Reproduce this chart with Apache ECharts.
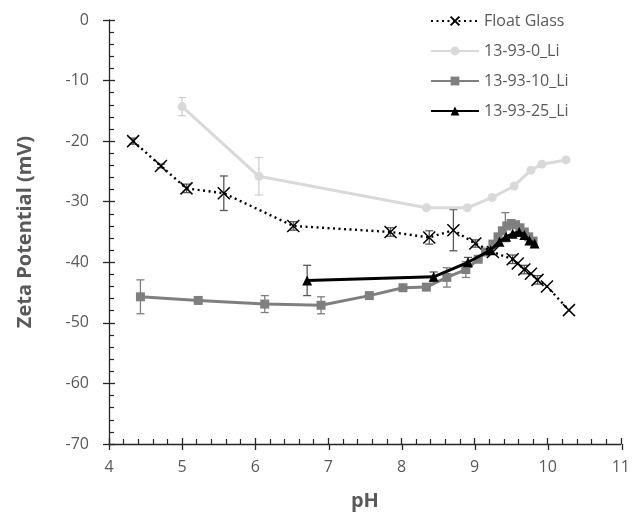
<!DOCTYPE html>
<html>
<head>
<meta charset="utf-8">
<script src="https://cdn.jsdelivr.net/npm/echarts@6/dist/echarts.min.js"></script>
<style>
  html, body { margin: 0; padding: 0; background: #fff; }
  #chart { width: 633px; height: 523px; }
</style>
</head>
<body>
<div id="chart"></div>
<script>
// values: [pH, zeta potential mV]
const floatGlass = [
  [4.33, -20.0], [4.71, -24.1], [5.06, -27.8], [5.57, -28.6], [6.52, -34.0],
  [7.85, -35.0], [8.38, -35.9], [8.71, -34.7], [9.01, -36.9], [9.25, -38.3],
  [9.52, -39.5], [9.59, -40.2], [9.68, -41.2], [9.77, -41.9], [9.86, -42.9],
  [9.99, -44.0], [10.29, -47.9]
]
const li0 = [
  [5.0, -14.3], [6.05, -25.8], [8.34, -31.0], [8.9, -31.0], [9.24, -29.3],
  [9.54, -27.4], [9.77, -24.8], [9.92, -23.8], [10.25, -23.1]
]
const li10 = [
  [4.43, -45.7], [5.22, -46.3], [6.13, -46.9], [6.9, -47.1], [7.56, -45.5],
  [8.02, -44.2], [8.34, -44.1], [8.62, -42.5], [8.88, -41.2], [9.05, -39.5],
  [9.15, -38.3], [9.25, -37.0], [9.32, -35.8], [9.38, -34.8], [9.44, -34.0],
  [9.5, -33.6], [9.56, -33.8], [9.62, -34.3], [9.68, -35.0], [9.74, -35.8],
  [9.8, -36.5]
]
const li25 = [
  [6.71, -43.0], [8.44, -42.4], [8.91, -40.0], [9.22, -38.0], [9.34, -36.6],
  [9.43, -35.8], [9.52, -35.3], [9.61, -35.0], [9.68, -35.5], [9.75, -36.4],
  [9.82, -36.9]
]

// error bars: [pH, mV, +/- mV]
const floatGlassErr = [
  [4.33, -20.0, 0.5], [4.71, -24.1, 0.3], [5.06, -27.8, 0.7], [5.57, -28.6, 2.85],
  [6.52, -34.0, 0.7], [7.85, -35.0, 0.7], [8.38, -35.9, 1.1], [8.71, -34.7, 3.4],
  [9.01, -36.9, 0.6], [9.52, -39.5, 0.7], [9.68, -41.2, 0.7], [9.86, -42.9, 0.7]
]
const li0Err = [[5.0, -14.3, 1.5], [6.05, -25.8, 3.1]]
const li10Err = [
  [4.43, -45.7, 2.8], [6.13, -46.9, 1.4], [6.9, -47.1, 1.4], [8.62, -42.5, 1.6],
  [8.88, -41.2, 1.3], [9.42, -34.2, 2.4]
]
const li25Err = [[6.71, -43.0, 2.5], [8.44, -42.4, 0.8], [8.91, -40.0, 0.8]]

const labelColor = '#595959'
const axisColor = '#262626'
const fontFamily = '"Open Sans", "Noto Sans", sans-serif'

const errorBars = (data, color) => ({
  type: 'custom',
  data: data,
  silent: true,
  z: 1,
  renderItem: (params, api) => {
    const x = api.value(0)
    const y = api.value(1)
    const e = api.value(2)
    const top = api.coord([x, y + e])
    const bot = api.coord([x, y - e])
    const w = 4
    const style = { stroke: color, lineWidth: 1.3 }
    return {
      type: 'group',
      children: [
        { type: 'line', shape: { x1: top[0], y1: top[1], x2: bot[0], y2: bot[1] }, style },
        { type: 'line', shape: { x1: top[0] - w, y1: top[1], x2: top[0] + w, y2: top[1] }, style },
        { type: 'line', shape: { x1: bot[0] - w, y1: bot[1], x2: bot[0] + w, y2: bot[1] }, style },
      ],
    }
  },
})

const chart = echarts.init(document.getElementById('chart'))

const plotBox = { left: 109, right: 11, top: 20, bottom: 79 }
const baseX = { type: 'value', min: 4, max: 11, interval: 1 }
const baseY = { type: 'value', min: -70, max: 0, interval: 10 }
const tickLine = { color: axisColor, width: 1.3 }

const option = {
  animation: false,
  textStyle: { fontFamily },
  // second grid only carries the outward half of the major ticks
  grid: [plotBox, { ...plotBox }],
  legend: {
    orient: 'vertical',
    left: 425,
    top: 8,
    itemGap: 14,
    itemWidth: 48,
    itemHeight: 11,
    data: ['Float Glass', '13-93-0_Li', '13-93-10_Li', '13-93-25_Li'],
    textStyle: { color: labelColor, fontSize: 16, fontFamily },
  },
  xAxis: [
    {
      ...baseX,
      gridIndex: 0,
      name: 'pH',
      nameLocation: 'middle',
      nameGap: 47,
      nameTextStyle: { color: labelColor, fontSize: 20, fontWeight: 'bold', fontFamily },
      axisLine: { onZero: false, lineStyle: tickLine },
      axisTick: { inside: true, length: 6, lineStyle: tickLine },
      minorTick: { show: true, splitNumber: 5, length: 5, lineStyle: { color: axisColor, width: 1.2 } },
      axisLabel: { color: labelColor, fontSize: 16, margin: 15, fontFamily },
      splitLine: { show: false },
    },
    {
      ...baseX,
      gridIndex: 1,
      position: 'bottom',
      axisLine: { show: false, onZero: false },
      axisTick: { length: 6, lineStyle: tickLine },
      axisLabel: { show: false },
      splitLine: { show: false },
    },
  ],
  yAxis: [
    {
      ...baseY,
      gridIndex: 0,
      name: 'Zeta Potential (mV)',
      nameLocation: 'middle',
      nameGap: 74,
      nameTextStyle: { color: labelColor, fontSize: 20, fontWeight: 'bold', fontFamily },
      axisLine: { show: true, onZero: false, lineStyle: tickLine },
      axisTick: { show: true, inside: true, length: 6, lineStyle: tickLine },
      minorTick: { show: true, splitNumber: 5, length: 5, lineStyle: { color: axisColor, width: 1.2 } },
      axisLabel: { color: labelColor, fontSize: 16, margin: 20, fontFamily },
      splitLine: { show: false },
    },
    {
      ...baseY,
      gridIndex: 1,
      position: 'left',
      axisLine: { show: false, onZero: false },
      axisTick: { show: true, length: 6, lineStyle: tickLine },
      axisLabel: { show: false },
      splitLine: { show: false },
    },
  ],
  series: [
    errorBars(li0Err, '#d0d0d0'),
    errorBars(li10Err, '#7f7f7f'),
    errorBars(li25Err, '#595959'),
    errorBars(floatGlassErr, '#595959'),
    {
      name: '13-93-0_Li',
      type: 'line',
      data: li0,
      z: 2,
      symbol: 'circle',
      symbolSize: 9,
      lineStyle: { color: '#d9d9d9', width: 3 },
      itemStyle: { color: '#d9d9d9' },
    },
    {
      name: '13-93-10_Li',
      type: 'line',
      data: li10,
      z: 3,
      symbol: 'rect',
      symbolSize: 9,
      lineStyle: { color: '#7f7f7f', width: 3 },
      itemStyle: { color: '#7f7f7f' },
    },
    {
      name: '13-93-25_Li',
      type: 'line',
      data: li25,
      z: 4,
      symbol: 'triangle',
      symbolSize: 10,
      lineStyle: { color: '#000', width: 3 },
      itemStyle: { color: '#000' },
    },
    {
      name: 'Float Glass',
      type: 'line',
      data: floatGlass,
      z: 5,
      symbol: 'path://M0,0L10,10M10,0L0,10',
      symbolSize: 12,
      lineStyle: { color: '#000', width: 2.4, type: [2, 3.5] },
      itemStyle: { color: '#000', borderColor: '#000', borderWidth: 1.5 },
    },
  ],
}

chart.setOption(option)
window.addEventListener('resize', () => chart.resize())
</script>
</body>
</html>
